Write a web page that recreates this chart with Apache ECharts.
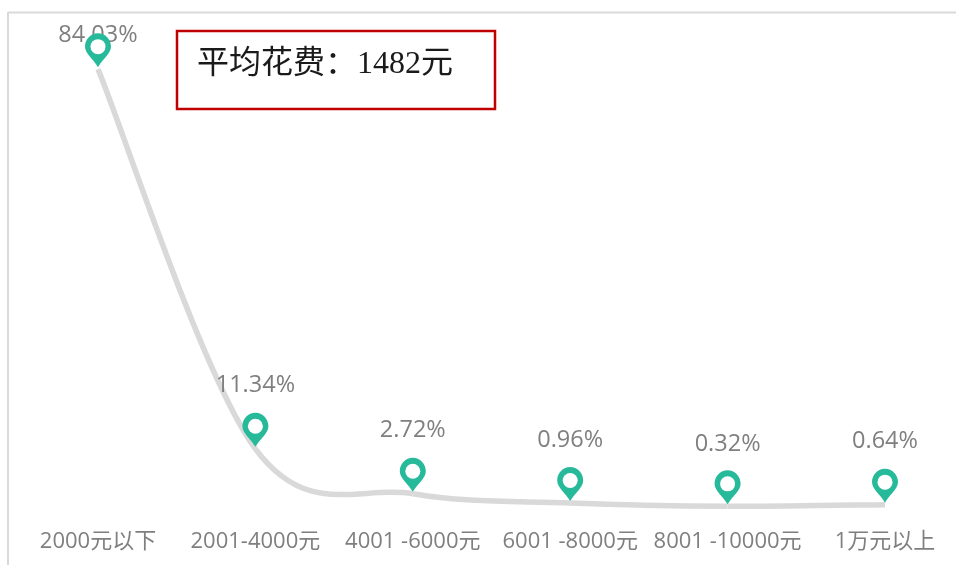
<!DOCTYPE html>
<html>
<head>
<meta charset="utf-8">
<style>html,body{margin:0;padding:0;background:#fff}#chart{width:956px;height:565px}</style>
<script src="https://cdn.jsdelivr.net/npm/echarts@6/dist/echarts.min.js"></script>
</head>
<body>
<div id="chart"></div>
<script>
var categories = ['2000元以下', '2001-4000元', '4001 -6000元', '6001 -8000元', '8001 -10000元', '1万元以上'];
var shares = [84.03, 11.34, 2.72, 0.96, 0.32, 0.64];
// label height above the point, the source placed these by hand
var labelRise = [34, 63, 63, 63, 62, 63];

var PIN = 'path://M13 0C20.2 0 26 5.8 26 13C26 20 17 26 13 33C9 26 0 20 0 13C0 5.8 5.8 0 13 0Z';
var GREY = '#7f7f7f';
var FONT = '"Open Sans", "Noto Sans CJK SC", sans-serif';

var labelData = shares.map(function (v, i) {
    return {
        value: v,
        label: { offset: [0, -labelRise[i]] }
    };
});

// excel style smoothing, the built in smooth line bends too early after the first point
var renderCurve = function (params, api) {
    var i = params.dataIndex;
    if (i >= shares.length - 1) return null;
    var at = function (k) {
        k = Math.max(0, Math.min(shares.length - 1, k));
        return api.coord([k, shares[k]]);
    };
    var p0 = at(i - 1), p1 = at(i), p2 = at(i + 1), p3 = at(i + 2);
    return {
        type: 'bezierCurve',
        shape: {
            x1: p1[0], y1: p1[1],
            x2: p2[0], y2: p2[1],
            cpx1: p1[0] + (p2[0] - p0[0]) / 6, cpy1: p1[1] + (p2[1] - p0[1]) / 6,
            cpx2: p2[0] - (p3[0] - p1[0]) / 6, cpy2: p2[1] - (p3[1] - p1[1]) / 6
        },
        style: { fill: null, stroke: '#d9d9d9', lineWidth: 5.5 }
    };
};

var option = {
    animation: false,
    backgroundColor: '#fff',
    grid: { left: 98, right: 71, top: 38, bottom: 57 },
    xAxis: {
        type: 'category',
        boundaryGap: false,
        data: categories,
        axisLine: { show: false },
        axisTick: { show: false },
        axisLabel: { interval: 0, margin: 23, color: GREY, fontSize: 22, fontFamily: FONT, hideOverlap: false }
    },
    yAxis: { type: 'value', min: 0, max: 90, show: false },
    series: [
        {
            type: 'custom',
            z: 2,
            data: shares.map(function (v, i) { return [i, v]; }),
            encode: { x: 0, y: 1 },
            renderItem: renderCurve
        },
        {
            type: 'scatter',
            z: 3,
            data: labelData,
            symbolSize: 1,
            itemStyle: { color: 'transparent', opacity: 1 },
            label: { show: true, position: 'inside', color: GREY, fontSize: 23.5, fontFamily: FONT, formatter: function (p) { return p.value.toFixed(2) + '%'; } }
        },
        {
            type: 'scatter',
            z: 4,
            data: shares,
            symbol: PIN,
            symbolSize: [26, 34],
            symbolOffset: [0, -19],
            itemStyle: { color: '#26b99a', opacity: 1 }
        },
        {
            type: 'scatter',
            z: 5,
            data: shares,
            symbol: 'circle',
            symbolSize: 15,
            symbolOffset: [0, -22.5],
            itemStyle: { color: '#fff', opacity: 1 }
        }
    ],
    graphic: [
        { type: 'line', shape: { x1: 8, y1: 12.5, x2: 956, y2: 12.5 }, style: { stroke: '#d9d9d9', lineWidth: 2 } },
        { type: 'line', shape: { x1: 8, y1: 12, x2: 8, y2: 565 }, style: { stroke: '#d9d9d9', lineWidth: 2 } },
        { type: 'rect', shape: { x: 177, y: 31, width: 318, height: 78 }, style: { fill: '#fff', stroke: '#c00000', lineWidth: 2.5 } },
        { type: 'text', x: 197, y: 65, style: { text: '平均花费：1482元', fill: '#1a1a1a', fontSize: 32, fontFamily: '"Liberation Serif", "Noto Sans CJK SC", serif', verticalAlign: 'middle' } }
    ]
};

echarts.init(document.getElementById('chart')).setOption(option);
</script>
</body>
</html>
